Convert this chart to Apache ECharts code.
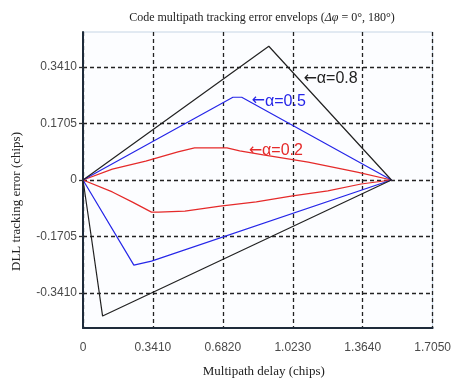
<!DOCTYPE html>
<html><head><meta charset="utf-8">
<script src="https://cdn.jsdelivr.net/npm/echarts@6/dist/echarts.min.js"></script>
<style>html,body{margin:0;padding:0;background:#fff}#c{width:454px;height:385px}</style>
</head><body><div id="c"></div>
<script>
// Tick values
var xTicks = [0, 0.341, 0.682, 1.023, 1.364, 1.705];
var yTicks = [-0.341, -0.1705, 0, 0.1705, 0.341];
// Curves: [multipath delay, tracking error]
var alpha08Upper = [[0,0],[0.906,0.404],[1.504,0]];
var alpha08Lower = [[0,0],[0.040,-0.170],[0.0955,-0.411],[1.504,0]];
var alpha05Upper = [[0,0],[0.731,0.250],[0.774,0.250],[1.504,0]];
var alpha05Lower = [[0,0],[0.248,-0.257],[0.334,-0.245],[1.504,0]];
var alpha02Upper = [[0,0],[0.143,0.033],[0.306,0.057],[0.463,0.085],[0.544,0.097],[0.702,0.097],[0.764,0.088],[0.879,0.076],[1.098,0.054],[1.337,0.024],[1.504,0]];
var alpha02Lower = [[0,0],[0.143,-0.036],[0.239,-0.066],[0.334,-0.097],[0.368,-0.097],[0.497,-0.094],[0.669,-0.079],[0.845,-0.066],[1.022,-0.048],[1.194,-0.033],[1.356,-0.012],[1.504,0]];
// Annotations
var labels = [
  {text:'\u03b1=0.8', at:[1.075,0.305], color:'#222222'},
  {text:'\u03b1=0.5', at:[0.822,0.238], color:'#2626e8'},
  {text:'\u03b1=0.2', at:[0.808,0.088], color:'#e52a2a'}
];

var chart = echarts.init(document.getElementById('c'));
function line(data, color, mp){
  var s = {type:'line', data:data, symbol:'none', animation:false,
    lineStyle:{color:color, width:1.2}, z:3};
  if (mp) {
    s.markPoint = {symbol:'circle', symbolSize:0, animation:false,
      data:[{coord:mp.at, label:{show:true, position:'right', distance:0,
        formatter:'{a|\u2190}{t|' + mp.text + '}',
        rich:{a:{fontFamily:'DejaVu Sans', fontSize:16, color:mp.color},
              t:{fontFamily:'Liberation Sans', fontSize:16, color:mp.color}}}}]};
  }
  return s;
}
var fmt = function(v){ return Math.abs(v) < 1e-9 ? '0' : v.toFixed(4); };
chart.setOption({
  animation:false,
  backgroundColor:'#ffffff',
  title:{
    left:257, top:7, textAlign:'center',
    text:'{n|Code multipath tracking error envelops (}{i|\u0394\u03c6}{n| = 0\u00b0, 180\u00b0)}',
    textStyle:{fontWeight:'normal', rich:{
      n:{fontFamily:'Liberation Serif', fontSize:12, fontWeight:'normal', color:'#222'},
      i:{fontFamily:'Liberation Serif', fontSize:12, fontStyle:'italic', fontWeight:'normal', color:'#222'}
    }}
  },
  grid:{left:83, right:14, top:32, bottom:57, show:true, borderColor:'#c5d5e5', borderWidth:1, backgroundColor:'#fcfdff'},
  xAxis:{type:'value', min:0, max:1.705,
    name:'Multipath delay (chips)', nameLocation:'middle', nameGap:37,
    nameTextStyle:{fontFamily:'Liberation Serif', fontSize:13, color:'#222', padding:[0,0,0,12]},
    axisLine:{show:true, onZero:false, lineStyle:{color:'#1e2b3a', width:2}},
    axisTick:{show:false, customValues:xTicks},
    axisLabel:{customValues:xTicks, formatter:fmt, fontFamily:'Liberation Sans', fontSize:12, color:'#4a4a4a', margin:14},
    splitLine:{show:true, lineStyle:{color:'#222', width:1.3, type:[4,3]}}
  },
  yAxis:{type:'value', min:-0.447, max:0.447,
    axisLine:{show:true, onZero:false, lineStyle:{color:'#1e2b3a', width:2}},
    axisTick:{show:true, customValues:yTicks, length:4, lineStyle:{color:'#333', width:1.3}},
    axisLabel:{customValues:yTicks, formatter:fmt, fontFamily:'Liberation Sans', fontSize:12, color:'#4a4a4a', margin:6},
    splitLine:{show:true, lineStyle:{color:'#222', width:1.3, type:[4,3]}}
  },
  graphic:[{type:'text', left:10, top:132, rotation:Math.PI/2,
    style:{text:'DLL tracking error (chips)', font:'13px "Liberation Serif"', fill:'#222'}}],
  series:[
    line(alpha02Upper,'#e52a2a',labels[2]),
    line(alpha02Lower,'#e52a2a'),
    line(alpha05Upper,'#2626e8',labels[1]),
    line(alpha05Lower,'#2626e8'),
    line(alpha08Upper,'#222222',labels[0]),
    line(alpha08Lower,'#222222')
  ]
});
</script></body></html>
